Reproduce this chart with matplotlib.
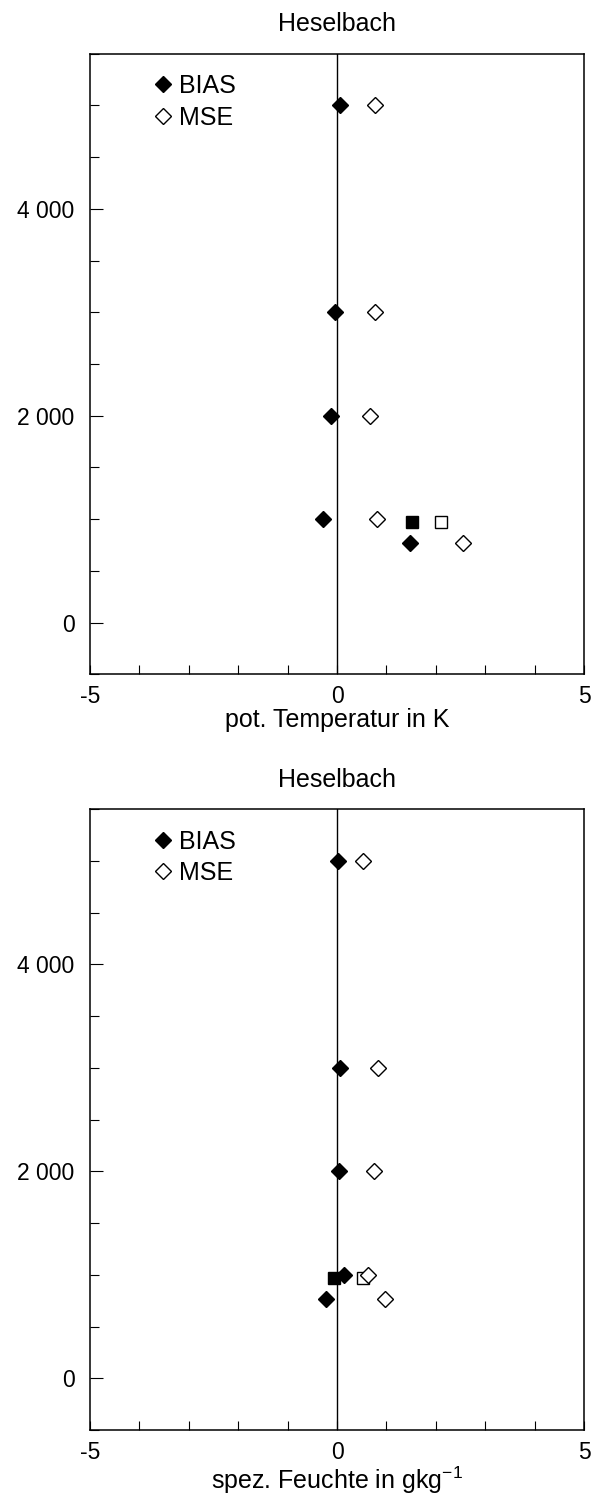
"""Heselbach: BIAS / MSE profiles of pot. temperature and specific humidity."""
import matplotlib
matplotlib.use("Agg")
import matplotlib.pyplot as plt
from matplotlib.ticker import MultipleLocator, FixedLocator, FuncFormatter

plt.rcParams["font.family"] = ["Liberation Sans", "DejaVu Sans"]
plt.rcParams["axes.unicode_minus"] = False

# ---- data ----
heights = [5000, 3000, 2000, 1000, 770]
temp_bias = [0.06, -0.04, -0.12, -0.29, 1.47]
temp_mse = [0.77, 0.77, 0.67, 0.80, 2.55]
hum_bias = [0.02, 0.05, 0.04, 0.14, -0.22]
hum_mse = [0.53, 0.83, 0.75, 0.63, 0.97]

square_height = [970]
temp_sq_bias = [1.52]
temp_sq_mse = [2.10]
hum_sq_bias = [-0.06]
hum_sq_mse = [0.53]

panels = [
    ("pot. Temperatur in K", temp_bias, temp_mse, temp_sq_bias, temp_sq_mse),
    ("spez. Feuchte in gkg$\\mathregular{^{-1}}$", hum_bias, hum_mse, hum_sq_bias, hum_sq_mse),
]
positions = [
    [0.1523, 0.5502, 0.836, 0.414],
    [0.1523, 0.0460, 0.836, 0.4143],
]

FS = 18
fig = plt.figure(figsize=(5.91, 14.99), dpi=100)


def ytick_fmt(v, _):
    s = f"{int(v):d}"
    if len(s) > 3:
        s = s[:-3] + " " + s[-3:]
    return s


for pos, (xlabel, bias, mse, sq_bias, sq_mse) in zip(positions, panels):
    ax = fig.add_axes(pos)
    ax.axvline(0, color="k", lw=1.0, zorder=1)

    ax.plot(bias, heights, ls="none", marker="D", ms=8, mfc="k", mec="k",
            mew=1, label="BIAS", zorder=3)
    ax.plot(mse, heights, ls="none", marker="D", ms=8, mfc="white", mec="k",
            mew=1, label="MSE", zorder=3)
    ax.plot(sq_bias, square_height, ls="none", marker="s", ms=8.5, mfc="k",
            mec="k", mew=1, zorder=3)
    ax.plot(sq_mse, square_height, ls="none", marker="s", ms=8.5, mfc="white",
            mec="k", mew=1, zorder=2)

    ax.set_xlim(-5, 5)
    ax.set_ylim(-500, 5500)

    ax.xaxis.set_major_locator(FixedLocator([-5, 0, 5]))
    ax.xaxis.set_minor_locator(MultipleLocator(1))
    ax.yaxis.set_major_locator(FixedLocator([0, 2000, 4000]))
    ax.yaxis.set_minor_locator(MultipleLocator(500))
    ax.yaxis.set_major_formatter(FuncFormatter(ytick_fmt))

    ax.tick_params(axis="x", which="both", direction="in", length=6.5,
                   width=0.8, labelsize=16.5, pad=8, top=False)
    ax.tick_params(axis="y", which="major", direction="in", length=9.5,
                   width=0.8, labelsize=16.5, pad=11, right=False)
    ax.tick_params(axis="y", which="minor", direction="in", length=6.5,
                   width=0.8, right=False)
    for sp in ax.spines.values():
        sp.set_linewidth(1.1)

    ax.set_title("Heselbach", fontsize=FS, pad=16)
    ax.set_xlabel(xlabel, fontsize=FS, labelpad=0)

    ax.legend(loc="upper left", bbox_to_anchor=(0.127, 0.967), frameon=False,
              fontsize=FS, handlelength=0.8, handletextpad=0.25,
              labelspacing=0.3, borderpad=0, borderaxespad=0, numpoints=1)

fig.savefig("out.png", dpi=100, facecolor="white")
